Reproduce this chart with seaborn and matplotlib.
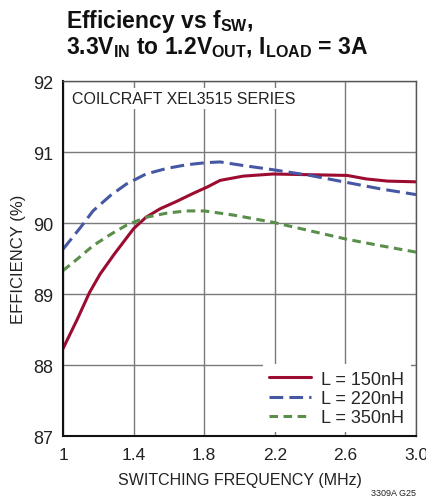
import matplotlib
matplotlib.use("Agg")
import matplotlib.pyplot as plt
import seaborn as sns
import pandas as pd

# data
freq_150 = [1.0, 1.08, 1.15, 1.21, 1.29, 1.40, 1.47, 1.55, 1.64, 1.74, 1.82,
            1.89, 2.02, 2.19, 2.40, 2.61, 2.72, 2.84, 3.0]
eff_150 = [88.23, 88.64, 89.02, 89.28, 89.56, 89.92, 90.08, 90.20, 90.30, 90.42, 90.51,
           90.60, 90.66, 90.69, 90.68, 90.67, 90.62, 90.59, 90.58]

freq_220 = [1.0, 1.1, 1.17, 1.27, 1.36, 1.47, 1.59, 1.70, 1.81, 1.89, 2.02,
            2.19, 2.40, 2.61, 2.80, 3.0]
eff_220 = [89.63, 89.94, 90.17, 90.39, 90.55, 90.69, 90.77, 90.82, 90.85, 90.86, 90.81,
           90.75, 90.67, 90.57, 90.48, 90.40]

freq_350 = [1.0, 1.08, 1.17, 1.27, 1.36, 1.47, 1.59, 1.70, 1.80, 1.97,
            2.19, 2.40, 2.61, 2.80, 3.0]
eff_350 = [89.33, 89.49, 89.68, 89.84, 89.97, 90.08, 90.14, 90.17, 90.17, 90.11,
           90.01, 89.89, 89.77, 89.68, 89.59]

labels = ["L = 150nH", "L = 220nH", "L = 350nH"]
colors = ["#9c0b30", "#4657a3", "#5b8e4b"]
dashes = [None, (4.5, 2.0), (2.8, 1.8)]

x_ticks = [1.0, 1.4, 1.8, 2.2, 2.6, 3.0]
x_tick_labels = ["1", "1.4", "1.8", "2.2", "2.6", "3.0"]
y_ticks = [87, 88, 89, 90, 91, 92]

sns.set_style("white")
plt.rcParams["font.family"] = ["Liberation Sans", "DejaVu Sans"]

fig = plt.figure(figsize=(4.27, 5.02), dpi=100)
ax = fig.add_axes([63 / 427, 1 - 437 / 502, 353 / 427, 355 / 502])

series = [(freq_150, eff_150), (freq_220, eff_220), (freq_350, eff_350)]
for (fx, fy), lab, col, ds in zip(series, labels, colors, dashes):
    df = pd.DataFrame({"f": fx, "e": fy})
    sns.lineplot(data=df, x="f", y="e", ax=ax, color=col, lw=2.2, label=lab)
    ln = ax.get_lines()[-1]
    ln.set_solid_joinstyle("round")
    ln.set_dash_joinstyle("round")
    if ds is not None:
        ln.set_dashes(ds)

ax.set_xlim(1.0, 3.0)
ax.set_ylim(87, 92)
ax.set_xticks(x_ticks)
ax.set_xticklabels(x_tick_labels)
ax.set_yticks(y_ticks)
ax.grid(True, color="#7a7a7a", lw=1.0)
ax.set_axisbelow(True)
ax.tick_params(axis="x", length=0, labelsize=12.5, pad=8, colors="#222222")
ax.tick_params(axis="y", length=0, labelsize=13, pad=7, colors="#222222")
for s in ["left", "bottom"]:
    ax.spines[s].set_color("#111111")
    ax.spines[s].set_linewidth(1.5)
for s in ["top", "right"]:
    ax.spines[s].set_color("#555555")
    ax.spines[s].set_linewidth(1.0)

ax.set_xlabel("SWITCHING FREQUENCY (MHz)", fontsize=11.5, color="#222222", labelpad=7)
ax.set_ylabel("EFFICIENCY (%)", fontsize=12, color="#222222", labelpad=5)

ax.text(0.025, 0.972, "COILCRAFT XEL3515 SERIES", transform=ax.transAxes,
        fontsize=11.5, color="#222222", va="top", ha="left",
        bbox=dict(facecolor="white", edgecolor="none", pad=2))

leg = ax.legend(loc="lower right", bbox_to_anchor=(0.985, 0.01), frameon=True,
                fontsize=13, handlelength=2.3, handletextpad=0.6, borderpad=0.35,
                labelspacing=0.12, borderaxespad=0.0, fancybox=False)
leg.get_frame().set_edgecolor("none")
leg.get_frame().set_facecolor("white")
leg.get_frame().set_alpha(1.0)

fig.text(66 / 427, 1 - 8 / 502,
         "Efficiency vs f$_{\\mathregular{SW}}$,\n3.3V$_{\\mathregular{IN}}$ to 1.2V$_{\\mathregular{OUT}}$, I$_{\\mathregular{LOAD}}$ = 3A",
         fontsize=16.5, fontweight="bold", va="top", ha="left", linespacing=1.0, color="#111111")
fig.text(416 / 427, 1 - 498 / 502, "3309A G25", fontsize=6.5, ha="right", va="bottom", color="#222222")

fig.savefig("out.png", dpi=100, facecolor="white")
